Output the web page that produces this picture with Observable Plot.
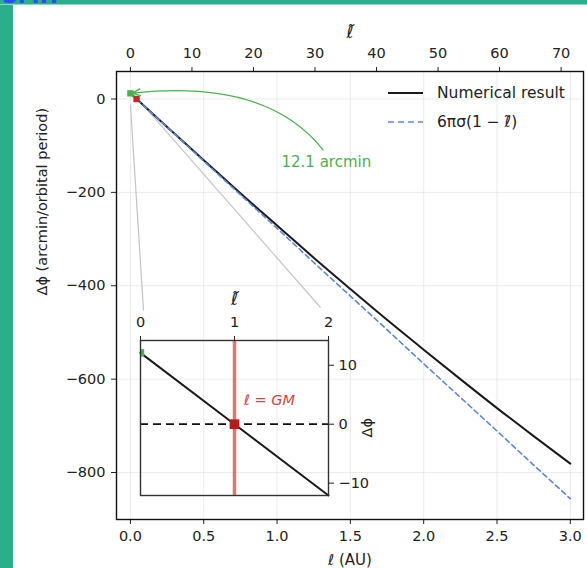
<!DOCTYPE html>
<html><head><meta charset="utf-8">
<script src="https://cdn.jsdelivr.net/npm/d3@7"></script>
<script src="https://cdn.jsdelivr.net/npm/@observablehq/plot@0.6"></script>
<style>
html,body{margin:0;padding:0;background:#fff;}
#wrap{position:relative;width:587px;height:568px;overflow:hidden;font-family:"DejaVu Sans",sans-serif;}
#wrap svg{position:absolute;}
.strip{position:absolute;background:#2bae89;}
#remnant{position:absolute;left:2px;top:-17px;font:bold 22px "DejaVu Sans";color:#2a4dff;}
</style></head><body>
<div id="wrap"></div>
<script>
// ---- data ----
const lAU = [0, 0.25, 0.5, 0.75, 1.0, 1.25, 1.5, 1.75, 2.0, 2.25, 2.5, 2.75, 3.0];
const numerical = [12.1, -60, -131, -202, -271, -340, -407, -473, -537, -600, -662, -722, -781];
const theory = [12.1, -60, -133, -205, -277, -350, -422, -494, -567, -639, -711, -784, -856];
const xTicks = [0, 0.5, 1.0, 1.5, 2.0, 2.5, 3.0];
const yTicks = [-800, -600, -400, -200, 0];
const lTildeTicks = [0, 10, 20, 30, 40, 50, 60, 70];
const GM = 0.04196;          // AU, position of l~ = 1
const startShift = 12.1;     // arcmin, 6πσ
const insetLt = [0, 1, 2];
const insetNum = [12.1, 0, -12.1];
const insetXTicks = [0, 1, 2];
const insetYTicks = [-10, 0, 10];
const seriesNames = ["Numerical result", "6πσ(1 − ℓ̃)"];

// ---- layout ----
const W = 587, H = 568, mL = 116, mR = 4, mT = 71, mB = 49;
const xDom = [-0.095, 3.09], yDom = [-900.6, 58.9];
const xS = d3.scaleLinear(xDom, [mL, W - mR]);
const yS = d3.scaleLinear(yDom, [H - mB, mT]);
const inset = {left: 140, top: 340, width: 188, height: 155};
const FONT = "DejaVu Sans";
const green = "#4caf50", red = "#c62828", blue = "#5f86d4";

const conn = [
  {x1: 0, y1: insetNum[2], x2: xS.invert(inset.left + 3), y2: yS.invert(inset.top - 30)},
  {x1: 2 * GM, y1: insetNum[2], x2: xS.invert(inset.left + inset.width - 8), y2: yS.invert(inset.top - 33)}
];
const numData = lAU.map((l, i) => ({l, v: numerical[i]}));
const thData = lAU.map((l, i) => ({l, v: theory[i]}));

// quadratic-Bezier annotation arrow (like matplotlib's arc connection) with open head
function bezierArrow(a, b, head, insetPx) {
  return (context) => {
    let pts = [];
    return {
      areaStart() {}, areaEnd() {},
      lineStart() { pts = []; },
      point(x, y) { pts.push([+x, +y]); },
      lineEnd() {
        if (pts.length < 2) return;
        const p0 = pts[0], p2 = pts[pts.length - 1];
        const dx = p2[0] - p0[0], dy = p2[1] - p0[1];
        const cx = p0[0] + a * dx - b * dy, cy = p0[1] + a * dy + b * dx;
        const ang = Math.atan2(p2[1] - cy, p2[0] - cx);
        const tx = p2[0] - insetPx * Math.cos(ang), ty = p2[1] - insetPx * Math.sin(ang);
        context.moveTo(p0[0], p0[1]);
        context.quadraticCurveTo(cx, cy, tx, ty);
        for (const s of [-1, 1]) {
          const t = ang + Math.PI + s * 0.42;
          context.moveTo(tx + head * Math.cos(t), ty + head * Math.sin(t));
          context.lineTo(tx, ty);
        }
      }
    };
  };
}

const mainPlot = Plot.plot({
  width: W, height: H, marginLeft: mL, marginRight: mR, marginTop: mT, marginBottom: mB,
  style: {fontFamily: FONT, fontSize: "14.5px", color: "#222", background: "white"},
  x: {domain: xDom}, y: {domain: yDom},
  marks: [
    Plot.gridX(xTicks, {stroke: "#000", strokeOpacity: 0.08, strokeWidth: 1}),
    Plot.gridY(yTicks, {stroke: "#000", strokeOpacity: 0.08, strokeWidth: 1}),
    Plot.link(conn, {x1: "x1", y1: "y1", x2: "x2", y2: "y2", stroke: "#c4c4c4", strokeWidth: 1.2}),
    Plot.line(numData, {x: "l", y: "v", stroke: "#1a1a1a", strokeWidth: 2, curve: "monotone-x"}),
    Plot.line(thData, {x: "l", y: "v", stroke: blue, strokeWidth: 1.6, strokeDasharray: "5,3.5"}),
    Plot.dot([{x: 0, y: startShift}], {x: "x", y: "y", symbol: "square", r: 3.6, fill: green, stroke: "none"}),
    Plot.dot([{x: GM, y: 0}], {x: "x", y: "y", symbol: "square", r: 3.6, fill: red, stroke: "none"}),
    Plot.link([{x1: 1.316, y1: -110, x2: 0, y2: startShift}], {
      x1: "x1", y1: "y1", x2: "x2", y2: "y2", stroke: green, strokeWidth: 1.3,
      curve: bezierArrow(0.366, 0.264, 9, 2)
    }),
    Plot.text(["12.1 arcmin"], {x: 1.336, y: -136, fill: green, fontSize: 15, textAnchor: "middle"}),
    Plot.axisX(xTicks, {anchor: "bottom", tickFormat: d3.format(".1f"), tickSize: 5, tickPadding: 6, label: null}),
    Plot.axisX(lTildeTicks.map(t => t * GM), {anchor: "top", tickFormat: d => String(Math.round(d / GM)), tickSize: 5, tickPadding: 9, label: null}),
    Plot.axisY(yTicks, {anchor: "left", tickSize: 5, tickPadding: 6, label: null}),
    Plot.frame({stroke: "#111", strokeWidth: 1.4}),
    Plot.text(["ℓ (AU)"], {frameAnchor: "bottom", dy: 41, lineAnchor: "middle", fontSize: 15, fill: "#222"}),
    Plot.text(["ℓ̃"], {frameAnchor: "top", dy: -39, lineAnchor: "middle", fontSize: 17, fontStyle: "italic", fill: "#222"}),
    Plot.text(["Δϕ (arcmin/orbital period)"], {frameAnchor: "left", dx: -74, rotate: -90, lineAnchor: "middle", fontSize: 14.5, fill: "#222"})
  ]
});

// ---- inset ----
const iLeftPos = 100, iTopPos = 280, iW = 300, iH = 222;
const insetData = insetLt.map((t, i) => ({t, v: insetNum[i]}));
const insetPlot = Plot.plot({
  width: iW, height: iH,
  marginLeft: inset.left - iLeftPos, marginTop: inset.top - iTopPos,
  marginRight: iW - (inset.left - iLeftPos) - inset.width,
  marginBottom: iH - (inset.top - iTopPos) - inset.height,
  style: {fontFamily: FONT, fontSize: "14.5px", color: "#222", background: "transparent"},
  x: {domain: [0, 2]}, y: {domain: [-12.1, 14.2]},
  marks: [
    Plot.ruleX([1], {stroke: "#d9534f", strokeOpacity: 0.8, strokeWidth: 3.5}),
    Plot.ruleY([0], {stroke: "#111", strokeDasharray: "8,5", strokeWidth: 1.8}),
    Plot.line(insetData, {x: "t", y: "v", stroke: "#1a1a1a", strokeWidth: 2}),
    Plot.dot([{t: insetLt[0], v: insetNum[0]}], {x: "t", y: "v", symbol: "square", r: 4.2, fill: green, stroke: "none", clip: true}),
    Plot.dot([{t: insetLt[1], v: insetNum[1]}], {x: "t", y: "v", symbol: "square", r: 5.5, fill: "#b71c1c", stroke: "none"}),
    Plot.text(["ℓ = GM"], {x: 1.1, y: 4.1, textAnchor: "start", fill: "#d04545", fontStyle: "italic", fontSize: 14.5}),
    Plot.axisX(insetXTicks, {anchor: "top", tickSize: 5, tickPadding: 9, label: null}),
    Plot.axisY(insetYTicks, {anchor: "right", tickSize: 5, tickPadding: 5, label: null}),
    Plot.frame({stroke: "#333", strokeWidth: 1.4}),
    Plot.text(["ℓ̃"], {frameAnchor: "top", dy: -41, lineAnchor: "middle", fontSize: 17, fontStyle: "italic", fill: "#222"}),
    Plot.text(["Δϕ"], {frameAnchor: "right", dx: 39, rotate: -90, lineAnchor: "middle", fontSize: 14.5, fill: "#222"})
  ]
});

const wrap = document.getElementById("wrap");
mainPlot.style.left = "0px"; mainPlot.style.top = "0px";
wrap.appendChild(mainPlot);
insetPlot.style.left = iLeftPos + "px"; insetPlot.style.top = iTopPos + "px";
wrap.appendChild(insetPlot);

// ---- legend ----
const leg = d3.select(wrap).append("svg").attr("width", W).attr("height", H)
  .style("left", "0px").style("top", "0px").style("pointer-events", "none");
const legRows = [
  {name: seriesNames[0], stroke: "#1a1a1a", dash: null, width: 2, y: 93},
  {name: seriesNames[1], stroke: blue, dash: "6,4", width: 1.6, y: 122}
];
legRows.forEach(r => {
  leg.append("line").attr("x1", 388).attr("x2", 423).attr("y1", r.y).attr("y2", r.y)
    .attr("stroke", r.stroke).attr("stroke-width", r.width).attr("stroke-dasharray", r.dash);
  leg.append("text").attr("x", 437).attr("y", r.y).attr("dy", "0.35em")
    .attr("font-family", FONT).attr("font-size", 15.5).attr("fill", "#222").text(r.name);
});

// ---- page decoration ----
const stripLeft = document.createElement("div"); stripLeft.className = "strip";
Object.assign(stripLeft.style, {left: "0px", top: "0px", width: "13px", height: H + "px"});
const stripTop = document.createElement("div"); stripTop.className = "strip";
Object.assign(stripTop.style, {left: "0px", top: "0px", width: W + "px", height: "4px", borderBottom: "1px solid #8fd6c0"});
const rem = document.createElement("div"); rem.id = "remnant"; rem.textContent = "SMH";
wrap.appendChild(stripLeft); wrap.appendChild(stripTop); wrap.appendChild(rem);
</script>
</body></html>
